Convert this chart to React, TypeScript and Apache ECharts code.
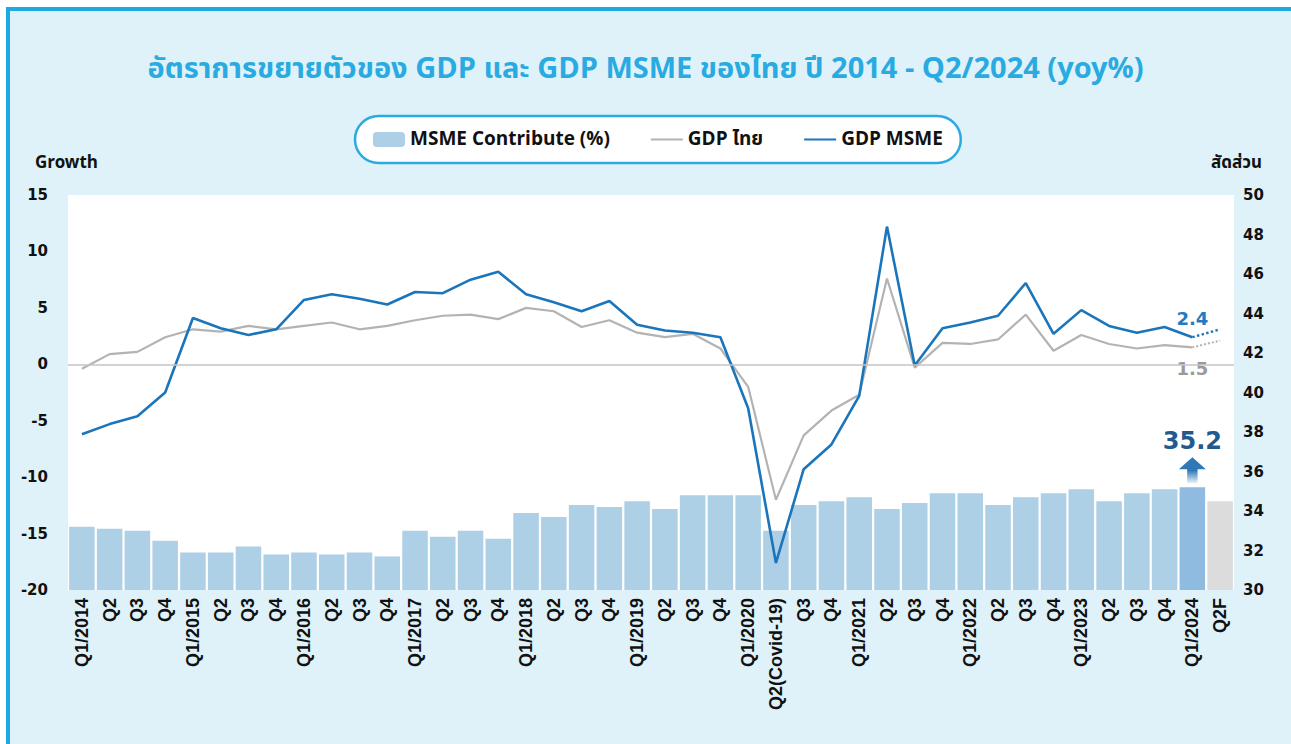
import React, { useEffect, useRef } from 'react';
import * as echarts from 'echarts';

const CATEGORIES = [
  'Q1/2014', 'Q2', 'Q3', 'Q4',
  'Q1/2015', 'Q2', 'Q3', 'Q4',
  'Q1/2016', 'Q2', 'Q3', 'Q4',
  'Q1/2017', 'Q2', 'Q3', 'Q4',
  'Q1/2018', 'Q2', 'Q3', 'Q4',
  'Q1/2019', 'Q2', 'Q3', 'Q4',
  'Q1/2020', 'Q2(Covid-19)', 'Q3', 'Q4',
  'Q1/2021', 'Q2', 'Q3', 'Q4',
  'Q1/2022', 'Q2', 'Q3', 'Q4',
  'Q1/2023', 'Q2', 'Q3', 'Q4',
  'Q1/2024', 'Q2F',
];

// MSME share of GDP (%), right axis
const MSME_SHARE = [
  33.2, 33.1, 33.0, 32.5,
  31.9, 31.9, 32.2, 31.8,
  31.9, 31.8, 31.9, 31.7,
  33.0, 32.7, 33.0, 32.6,
  33.9, 33.7, 34.3, 34.2,
  34.5, 34.1, 34.8, 34.8,
  34.8, 33.0, 34.3, 34.5,
  34.7, 34.1, 34.4, 34.9,
  34.9, 34.3, 34.7, 34.9,
  35.1, 34.5, 34.9, 35.1,
  35.2, 34.5,
];

// GDP Thailand growth (yoy %), left axis
const GDP_THAI = [
  -0.4, 0.9, 1.1, 2.4,
  3.1, 2.9, 3.4, 3.1,
  3.4, 3.7, 3.1, 3.4,
  3.9, 4.3, 4.4, 4.0,
  5.0, 4.7, 3.3, 3.9,
  2.8, 2.4, 2.7, 1.4,
  -2.0, -12.0, -6.3, -4.1,
  -2.7, 7.6, -0.3, 1.9,
  1.8, 2.2, 4.4, 1.2,
  2.6, 1.8, 1.4, 1.7,
  1.5, null,
];

// GDP MSME growth (yoy %), left axis
const GDP_MSME = [
  -6.2, -5.3, -4.6, -2.5,
  4.1, 3.2, 2.6, 3.1,
  5.7, 6.2, 5.8, 5.3,
  6.4, 6.3, 7.5, 8.2,
  6.2, 5.5, 4.7, 5.6,
  3.5, 3.0, 2.8, 2.4,
  -3.9, -17.6, -9.3, -7.1,
  -2.8, 12.2, -0.1, 3.2,
  3.7, 4.3, 7.2, 2.7,
  4.8, 3.4, 2.8, 3.3,
  2.4, null,
];

// Forecast continuation Q1/2024 -> Q2F
const GDP_THAI_FORECAST = [1.5, 2.1];
const GDP_MSME_FORECAST = [2.4, 3.1];

const GROWTH_TICKS = { min: -20, max: 15, interval: 5 };
const SHARE_TICKS = { min: 30, max: 50, interval: 2 };

const TITLE = 'อัตราการขยายตัวของ GDP และ GDP MSME ของไทย ปี 2014 - Q2/2024 (yoy%)';

const THAI_FONT = "'Noto Sans Thai', 'Liberation Sans', 'Noto Sans', sans-serif";
const NUM_FONT = "'DejaVu Sans', 'Noto Sans', sans-serif";

export default function App() {
  const ref = useRef<HTMLDivElement>(null);

  useEffect(() => {
    if (!ref.current) return;
    const chart = echarts.init(ref.current, null, { renderer: 'svg' });

    const LAST = CATEGORIES.length - 2; // Q1/2024
    const FC = CATEGORIES.length - 1; // Q2F

    const barData = MSME_SHARE.map((v, i) => {
      if (i === LAST) {
        return {
          value: v,
          itemStyle: { color: '#8fbbe0' },
          label: {
            show: true,
            position: 'top',
            distance: 34,
            formatter: '{c}',
            fontSize: 24,
            fontWeight: 'bold',
            fontFamily: NUM_FONT,
            color: '#1f5b8e',
          },
        };
      }
      if (i === FC) return { value: v, itemStyle: { color: '#dcdcdc' } };
      return v;
    });

    const option: any = {
      animation: false,
      backgroundColor: '#dff2fa',
      title: {
        text: TITLE,
        left: 'center',
        top: 54,
        padding: 0,
        textStyle: {
          color: '#29abe2',
          fontSize: 29,
          fontWeight: 'bold',
          fontFamily: THAI_FONT,
        },
      },
      legend: {
        data: [
          { name: 'MSME Contribute (%)' },
          { name: 'GDP ไทย', itemStyle: { opacity: 0 } },
          { name: 'GDP MSME', itemStyle: { opacity: 0 } },
        ],
        left: 355,
        top: 116,
        padding: [14, 18, 14, 18],
        itemGap: 40,
        itemWidth: 32,
        itemHeight: 15,
        backgroundColor: '#ffffff',
        borderColor: '#29abe2',
        borderWidth: 2.5,
        borderRadius: 24,
        textStyle: {
          fontSize: 19,
          fontWeight: 'bold',
          color: '#111',
          fontFamily: THAI_FONT,
        },
      },
      grid: {
        left: 68,
        right: 57,
        top: 195,
        bottom: 154,
        show: true,
        backgroundColor: '#ffffff',
        borderWidth: 0,
      },
      xAxis: {
        type: 'category',
        data: CATEGORIES,
        axisLine: { show: false },
        axisTick: { show: false },
        axisLabel: {
          interval: 0,
          rotate: 90,
          margin: 8,
          fontSize: 18,
          fontWeight: 'bold',
          color: '#111',
          fontFamily: "'Liberation Sans', Arial, sans-serif",
        },
      },
      yAxis: [
        {
          type: 'value',
          position: 'left',
          ...GROWTH_TICKS,
          splitLine: { show: false },
          axisLine: { show: false },
          axisTick: { show: false },
          axisLabel: {
            margin: 20,
            fontSize: 15,
            fontWeight: 'bold',
            color: '#111',
            fontFamily: NUM_FONT,
          },
        },
        {
          type: 'value',
          position: 'right',
          ...SHARE_TICKS,
          splitLine: { show: false },
          axisLine: { show: false },
          axisTick: { show: false },
          axisLabel: {
            margin: 9,
            fontSize: 15,
            fontWeight: 'bold',
            color: '#111',
            fontFamily: NUM_FONT,
          },
        },
      ],
      graphic: [
        { type: 'rect', silent: true, shape: { x: 0, y: 0, width: 1291, height: 7 }, style: { fill: '#ffffff' } },
        { type: 'rect', silent: true, shape: { x: 0, y: 0, width: 6, height: 744 }, style: { fill: '#ffffff' } },
        { type: 'rect', silent: true, shape: { x: 6, y: 7, width: 1285, height: 4 }, style: { fill: '#1da9e1' } },
        { type: 'rect', silent: true, shape: { x: 6, y: 7, width: 4, height: 737 }, style: { fill: '#1da9e1' } },
        {
          type: 'text',
          x: 35,
          y: 163,
          style: {
            text: 'Growth',
            fontSize: 17,
            fontWeight: 'bold',
            fontFamily: THAI_FONT,
            fill: '#111',
            align: 'left',
            verticalAlign: 'middle',
          },
        },
        {
          type: 'text',
          x: 1262,
          y: 163,
          style: {
            text: 'สัดส่วน',
            fontSize: 17,
            fontWeight: 'bold',
            fontFamily: THAI_FONT,
            fill: '#111',
            align: 'right',
            verticalAlign: 'middle',
          },
        },
      ],
      series: [
        {
          name: 'MSME Contribute (%)',
          type: 'bar',
          yAxisIndex: 1,
          data: barData,
          barCategoryGap: '8%',
          itemStyle: { color: '#aed0e6' },
          markPoint: {
            silent: true,
            data: [
              {
                coord: [LAST, MSME_SHARE[LAST]],
                symbol: 'path://M13,0 L26,12 L18,12 L18,26 L8,26 L8,12 L0,12 Z',
                symbolSize: [27, 26],
                symbolOffset: [0, -17],
                itemStyle: {
                  color: new echarts.graphic.LinearGradient(0, 0, 0, 1, [
                    { offset: 0, color: '#2e78b8' },
                    { offset: 0.5, color: '#2e78b8' },
                    { offset: 1, color: 'rgba(46,120,184,0.08)' },
                  ]),
                },
                label: { show: false },
              },
            ],
          },
        },
        {
          name: 'GDP ไทย',
          type: 'line',
          yAxisIndex: 0,
          data: GDP_THAI,
          symbol: 'none',
          lineStyle: { color: '#b3b3b3', width: 2.2 },
          itemStyle: { color: '#b3b3b3' },
          z: 3,
          markLine: {
            silent: true,
            symbol: 'none',
            label: { show: false },
            lineStyle: { color: '#c4c4c4', width: 1.5, type: 'solid' },
            data: [{ yAxis: 0 }],
          },
        },
        {
          name: 'GDP MSME',
          type: 'line',
          yAxisIndex: 0,
          data: GDP_MSME,
          symbol: 'none',
          lineStyle: { color: '#1b75bb', width: 2.6 },
          itemStyle: { color: '#1b75bb' },
          z: 4,
        },
        {
          name: 'GDP ไทย forecast',
          type: 'line',
          yAxisIndex: 0,
          symbol: 'circle',
          symbolSize: 0.1,
          showSymbol: true,
          lineStyle: { color: '#b3b3b3', width: 2, type: 'dotted' },
          itemStyle: { color: '#b3b3b3' },
          z: 3,
          data: [
            {
              value: [LAST, GDP_THAI_FORECAST[0]],
              label: {
                show: true,
                position: 'bottom',
                distance: 12,
                formatter: (p: any) => String(p.value[1]),
                fontSize: 18,
                fontWeight: 'bold',
                fontFamily: NUM_FONT,
                color: '#9a9a9a',
              },
            },
            [FC, GDP_THAI_FORECAST[1]],
          ],
        },
        {
          name: 'GDP MSME forecast',
          type: 'line',
          yAxisIndex: 0,
          symbol: 'circle',
          symbolSize: 0.1,
          showSymbol: true,
          lineStyle: { color: '#1b75bb', width: 2.4, type: 'dotted' },
          itemStyle: { color: '#1b75bb' },
          z: 4,
          data: [
            {
              value: [LAST, GDP_MSME_FORECAST[0]],
              label: {
                show: true,
                position: 'top',
                distance: 10,
                formatter: (p: any) => String(p.value[1]),
                fontSize: 18,
                fontWeight: 'bold',
                fontFamily: NUM_FONT,
                color: '#1f7bc4',
              },
            },
            [FC, GDP_MSME_FORECAST[1]],
          ],
        },
      ],
    };

    chart.setOption(option);
    return () => chart.dispose();
  }, []);

  return <div ref={ref} style={{ position: 'absolute', left: 0, top: 0, width: 1291, height: 744 }} />;
}
